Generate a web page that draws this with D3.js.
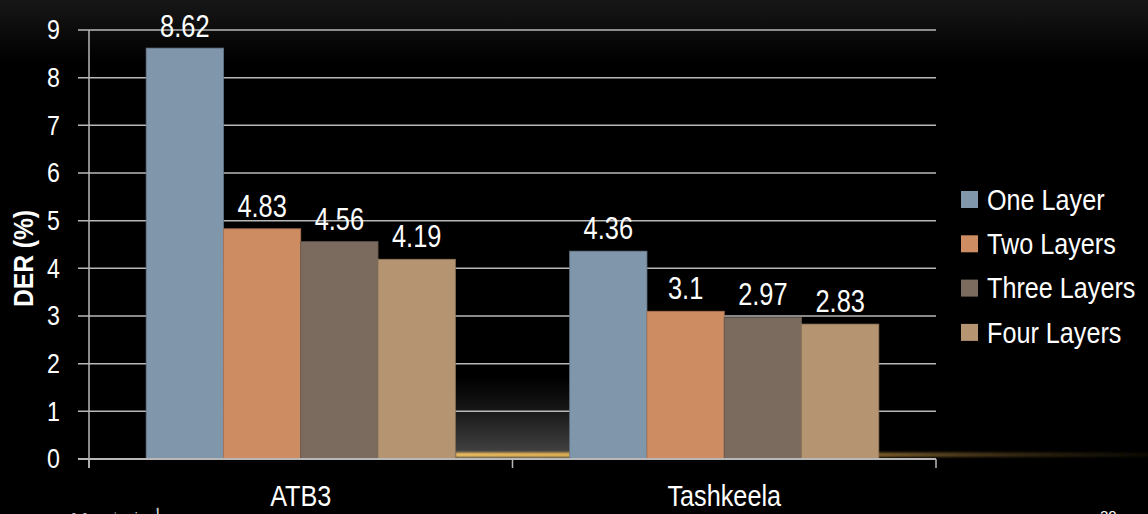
<!DOCTYPE html>
<html>
<head>
<meta charset="utf-8">
<script src="https://cdn.jsdelivr.net/npm/d3@7"></script>
<style>
  html, body { margin: 0; padding: 0; background: #000; }
  svg { display: block; }
  text { font-family: "Liberation Sans Narrow", "Arial Narrow", "Liberation Sans", Arial, sans-serif; fill: #fff; }
</style>
</head>
<body>
<svg width="1148" height="514"></svg>
<script>
const categories = ['ATB3', 'Tashkeela']
const seriesNames = ['One Layer', 'Two Layers', 'Three Layers', 'Four Layers']
const seriesColors = ['#7f96ab', '#cd8c62', '#7b6b5f', '#b59571']
const oneLayer = [8.62, 4.36]
const twoLayers = [4.83, 3.1]
const threeLayers = [4.56, 2.97]
const fourLayers = [4.19, 2.83]
const yTicks = [0, 1, 2, 3, 4, 5, 6, 7, 8, 9]

const values = [oneLayer, twoLayers, threeLayers, fourLayers]

const svg = d3.select('svg')
const width = 1148, height = 514
const margin = {top: 30, right: 212, bottom: 55, left: 89}
const innerWidth = width - margin.left - margin.right
const innerHeight = height - margin.top - margin.bottom

// no narrow font installed, so squeeze the text horizontally
function place(sel, fx, fy, k) {
  sel.attr('transform', (d, i) => `translate(${fx(d, i)},${fy(d, i)}) scale(${k},1)`)
}

const defs = svg.append('defs')

const bgGrad = defs.append('linearGradient').attr('id', 'bg').attr('x1', 0).attr('y1', 0).attr('x2', 0).attr('y2', 1)
bgGrad.append('stop').attr('offset', 0).attr('stop-color', '#171717')
bgGrad.append('stop').attr('offset', 0.12).attr('stop-color', '#000')
bgGrad.append('stop').attr('offset', 1).attr('stop-color', '#000')
svg.append('rect').attr('width', width).attr('height', height).attr('fill', 'url(#bg)')

const glowGrad = defs.append('linearGradient').attr('id', 'glow').attr('x1', 0).attr('x2', 1)
glowGrad.append('stop').attr('offset', 0).attr('stop-color', '#f0c060').attr('stop-opacity', 1)
glowGrad.append('stop').attr('offset', 0.18).attr('stop-color', '#e0b050').attr('stop-opacity', 1)
glowGrad.append('stop').attr('offset', 0.62).attr('stop-color', '#a8803a').attr('stop-opacity', 0.7)
glowGrad.append('stop').attr('offset', 1).attr('stop-color', '#4a3818').attr('stop-opacity', 0.15)

const haze = defs.append('linearGradient').attr('id', 'haze').attr('x1', 0).attr('y1', 0).attr('x2', 0).attr('y2', 1)
haze.append('stop').attr('offset', 0).attr('stop-color', '#000')
haze.append('stop').attr('offset', 0.35).attr('stop-color', '#141414')
haze.append('stop').attr('offset', 1).attr('stop-color', '#484848')

const blur = defs.append('filter').attr('id', 'blur').attr('x', -0.1).attr('y', -3).attr('width', 1.2).attr('height', 7)
blur.append('feGaussianBlur').attr('stdDeviation', 1.3)

const g = svg.append('g').attr('transform', `translate(${margin.left},${margin.top})`)

const x0 = d3.scaleBand().domain(categories).range([0, innerWidth]).paddingInner(0.27).paddingOuter(0.135)
const x1 = d3.scaleBand().domain(seriesNames).range([0, x0.bandwidth()])
const y = d3.scaleLinear().domain([0, 9]).range([innerHeight, 0])

// grey haze and gold glow on the floor
const gapStart = x0('ATB3') + x0.bandwidth()
const gapEnd = x0('Tashkeela')
g.append('rect')
  .attr('x', gapStart).attr('y', y(1.7))
  .attr('width', gapEnd - gapStart).attr('height', y(0) - y(1.7))
  .attr('fill', 'url(#haze)')
g.append('rect')
  .attr('x', gapStart).attr('y', y(0) - 6.5)
  .attr('width', width - margin.left - gapStart).attr('height', 4.5)
  .attr('fill', 'url(#glow)').attr('filter', 'url(#blur)')

// gridlines
g.append('g')
  .selectAll('line')
  .data(yTicks.filter(d => d > 0))
  .join('line')
  .attr('x1', -11).attr('x2', innerWidth)
  .attr('y1', d => y(d)).attr('y2', d => y(d))
  .attr('stroke', '#b8b8b8').attr('stroke-width', 1.5)

// bars
const rowsOf = (c, ci) => seriesNames.map((s, si) => ({s, si, v: values[si][ci]}))
const groups = g.append('g')
  .selectAll('g')
  .data(categories)
  .join('g')
  .attr('transform', d => `translate(${x0(d)},0)`)

groups.selectAll('rect')
  .data(rowsOf)
  .join('rect')
  .attr('x', d => x1(d.s))
  .attr('y', d => y(d.v))
  .attr('width', x1.bandwidth())
  .attr('height', d => y(0) - y(d.v))
  .attr('fill', d => seriesColors[d.si])
  .attr('stroke', d => d3.color(seriesColors[d.si]).darker(0.6))
  .attr('stroke-width', 0.8)

groups.selectAll('text')
  .data(rowsOf)
  .join('text')
  .attr('text-anchor', 'middle')
  .attr('font-size', 31)
  .text(d => d.v)
  .call(place, d => x1(d.s) + x1.bandwidth() / 2, d => Math.max(y(d.v) - 12, 7), 0.82)

// x axis
const xAxis = g.append('g').attr('transform', `translate(0,${innerHeight})`)
xAxis.append('line').attr('x1', -11).attr('x2', innerWidth)
  .attr('stroke', '#b8b8b8').attr('stroke-width', 2)
xAxis.selectAll('line.b')
  .data([0, ...categories.map(c => x0(c) + x0.bandwidth() + x0.step() * x0.paddingInner() / 2)])
  .join('line')
  .attr('class', 'b')
  .attr('x1', d => d).attr('x2', d => d)
  .attr('y1', 0).attr('y2', 9)
  .attr('stroke', '#b8b8b8').attr('stroke-width', 1.5)
xAxis.selectAll('text')
  .data(categories)
  .join('text')
  .attr('text-anchor', 'middle')
  .attr('font-size', 29)
  .text(d => d)
  .call(place, d => x0(d) + x0.bandwidth() / 2, () => 47, 0.87)

// y axis
g.append('line').attr('x1', 0).attr('x2', 0).attr('y1', 0).attr('y2', innerHeight + 9)
  .attr('stroke', '#b8b8b8').attr('stroke-width', 1.5)
g.append('g')
  .selectAll('text')
  .data(yTicks)
  .join('text')
  .attr('dy', '0.35em')
  .attr('text-anchor', 'end')
  .attr('font-size', 27)
  .text(d => d)
  .call(place, () => -29, d => y(d), 0.86)

svg.append('text')
  .attr('transform', `translate(33,${margin.top + innerHeight / 2 + 14}) rotate(-90) scale(0.88,1)`)
  .attr('text-anchor', 'middle')
  .attr('font-family', 'Liberation Sans, Arial, sans-serif')
  .attr('font-weight', 'bold')
  .attr('font-size', 28)
  .text('DER (%)')

// legend
const legend = svg.append('g').attr('transform', 'translate(961,199)')
const rows = legend.selectAll('g')
  .data(seriesNames)
  .join('g')
  .attr('transform', (d, i) => `translate(0,${i * 44.3})`)
rows.append('rect')
  .attr('x', 0).attr('y', -8).attr('width', 17).attr('height', 17)
  .attr('fill', (d, i) => seriesColors[i])
rows.append('text')
  .attr('dy', '0.36em')
  .attr('font-size', 30)
  .text(d => d)
  .call(place, () => 26, () => 0, 0.84)

// footer of the slide, mostly below the bottom edge
svg.append('text').attr('x', 160).attr('y', 520).attr('font-size', 13)
  .attr('font-family', 'DejaVu Sans, sans-serif').attr('fill', '#ddd')
  .attr('text-anchor', 'end')
  .text('أ ن ف ش ن ة ة')
svg.append('text').attr('x', 1100).attr('y', 521).attr('font-size', 15)
  .attr('font-family', 'Liberation Sans, sans-serif').attr('fill', '#ddd')
  .text('20')
</script>
</body>
</html>
